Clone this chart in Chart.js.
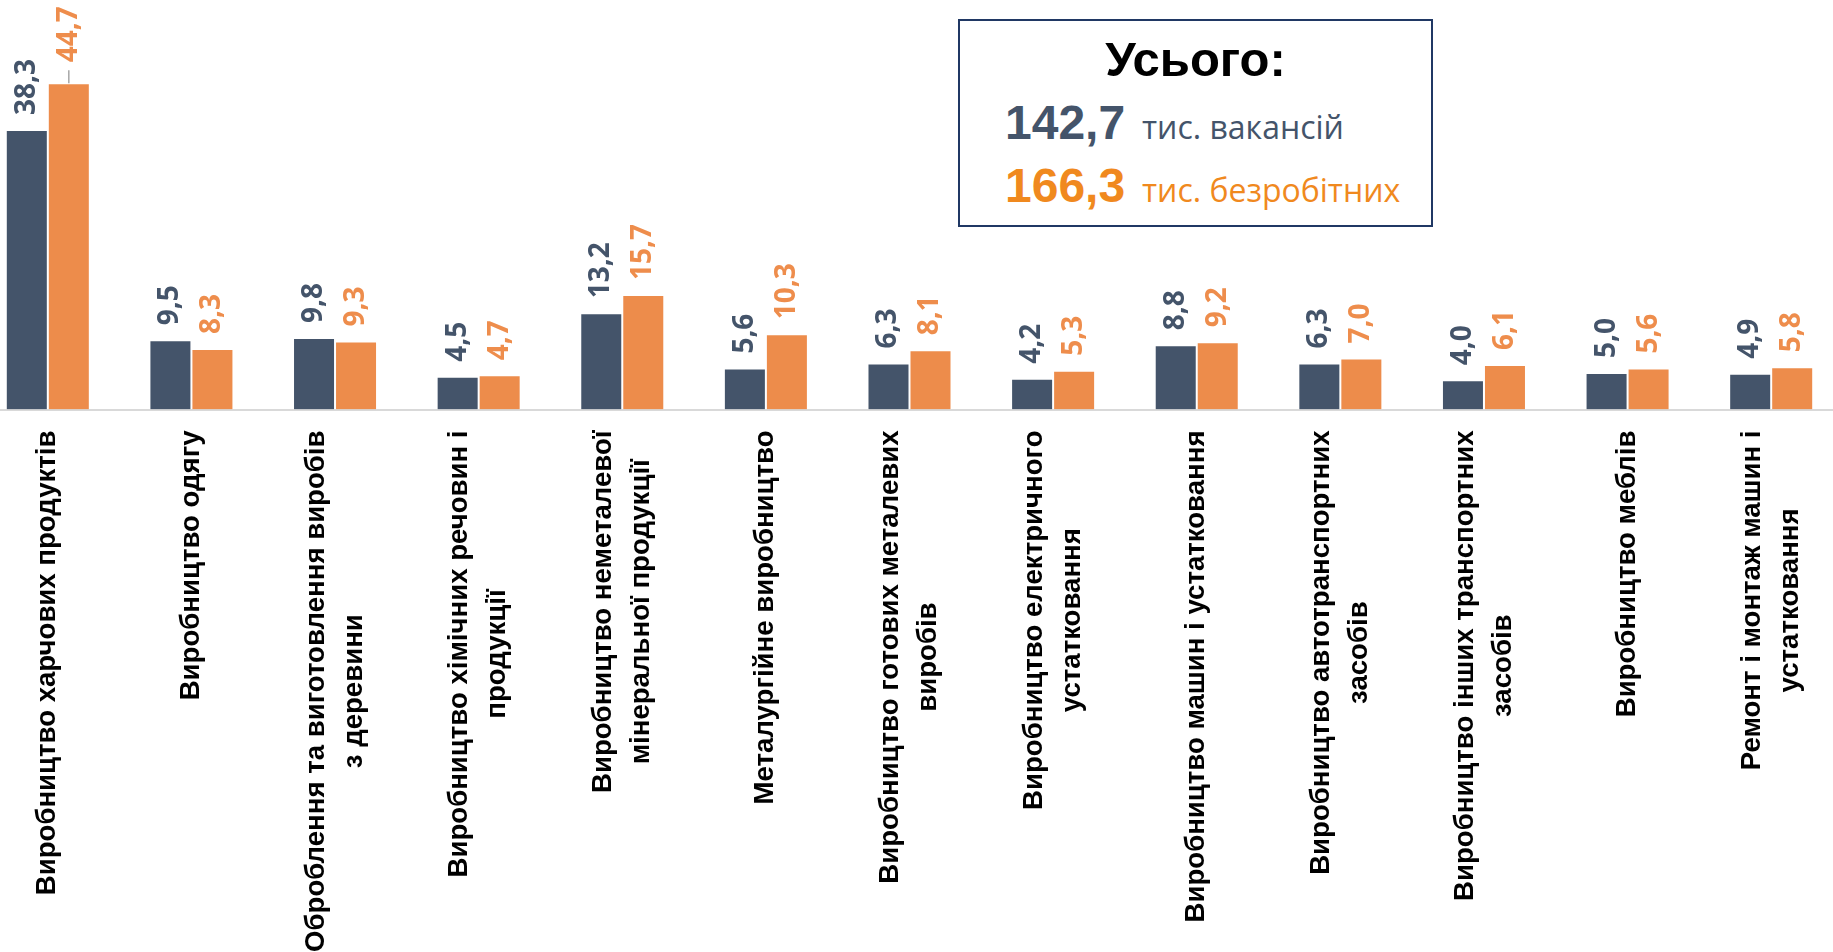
<!DOCTYPE html>
<html>
<head>
<meta charset="utf-8">
<script src="https://cdn.jsdelivr.net/npm/chart.js@4.4.1/dist/chart.umd.min.js"></script>
<style>
    html, body { margin: 0; padding: 0; background: #fff; overflow: hidden; }
    body { width: 1833px; height: 952px; position: relative; }
    #wrap { position: absolute; left: -24px; top: 0; width: 1867px; height: 952px; }
    #total { position: absolute; left: 958px; top: 19px; width: 471px; height: 204px;
             border: 2px solid #203864; background: #fff; }
    #total div { position: absolute; white-space: nowrap; }
    .big { font: bold 48px/48px "Liberation Sans", Arial, sans-serif; }
    .small { font: 32px/32px "Open Sans", sans-serif; }
</style>
</head>
<body>
<div id="wrap"><canvas id="chart"></canvas></div>
<div id="total">
    <div class="big" style="left:0;width:471px;text-align:center;top:14px;color:#000;font-size:49px;">Усього:</div>
    <div class="big" style="left:45px;top:78px;color:#44546A;">142,7</div>
    <div class="small" style="left:182px;top:90px;color:#44546A;">тис. вакансій</div>
    <div class="big" style="left:45px;top:141px;color:#F0891E;">166,3</div>
    <div class="small" style="left:182px;top:153px;color:#F0891E;">тис. безробітних</div>
</div>
<script>
// ===== DATA =====
const categories = [
    'Виробництво харчових продуктів',
    'Виробництво одягу',
    ['Оброблення та виготовлення виробів', 'з деревини'],
    ['Виробництво хімічних речовин і', 'продукції'],
    ['Виробництво неметалевої', 'мінеральної продукції'],
    'Металургійне виробництво',
    ['Виробництво готових металевих', 'виробів'],
    ['Виробництво електричного', 'устатковання'],
    'Виробництво машин і устатковання',
    ['Виробництво автотранспортних', 'засобів'],
    ['Виробництво інших транспортних', 'засобів'],
    'Виробництво меблів',
    ['Ремонт і монтаж машин і', 'устатковання']
];

// тис. вакансій
const vacancies = [38.3, 9.5, 9.8, 4.5, 13.2, 5.6, 6.3, 4.2, 8.8, 6.3, 4.0, 5.0, 4.9];
// тис. безробітних
const unemployed = [44.7, 8.3, 9.3, 4.7, 15.7, 10.3, 8.1, 5.3, 9.2, 7.0, 6.1, 5.6, 5.8];

const seriesNames = ['Вакансії', 'Безробітні'];
const barColors = ['#44546A', '#ED8C4B'];
const labelColors = ['#44546A', '#EE8D4C'];

// ===== PLUGINS =====
function fmt(v) {
    return v.toFixed(1).replace('.', ',');
}

// підписи значень над стовпцями (повернуті)
const valueLabels = {
    id: 'valueLabels',
    afterDatasetsDraw(chart) {
        const ctx = chart.ctx;
        chart.data.datasets.forEach((ds, di) => {
            const meta = chart.getDatasetMeta(di);
            meta.data.forEach((bar, i) => {
                let gap = 15;
                ctx.save();
                // виносна лінія для першого підпису безробітних
                if (di === 1 && i === 0) {
                    gap = 21;
                    ctx.strokeStyle = '#A6A6A6';
                    ctx.lineWidth = 1.5;
                    ctx.beginPath();
                    ctx.moveTo(bar.x, bar.y);
                    ctx.lineTo(bar.x, bar.y - 13);
                    ctx.stroke();
                }
                ctx.translate(bar.x, bar.y - gap);
                ctx.rotate(-Math.PI / 2);
                ctx.font = 'bold 28px "Open Sans", sans-serif';
                ctx.fillStyle = labelColors[di];
                ctx.textAlign = 'left';
                ctx.textBaseline = 'middle';
                ctx.fillText(fmt(ds.data[i]), 0, 0);
                ctx.restore();
            });
        });
    }
};

// підписи категорій: вертикально, рядки центровані
const categoryLabels = {
    id: 'categoryLabels',
    afterDraw(chart) {
        const ctx = chart.ctx;
        const xs = chart.scales.x;
        const top = chart.chartArea.bottom + 21;
        const pitch = 38;
        ctx.save();
        ctx.font = 'bold 27.6px "Liberation Sans", Arial, sans-serif';
        ctx.fillStyle = '#000';
        ctx.textAlign = 'center';
        ctx.textBaseline = 'middle';
        categories.forEach((lab, i) => {
            const lines = Array.isArray(lab) ? lab : [lab];
            const maxW = Math.max(...lines.map(l => ctx.measureText(l).width));
            const x = xs.getPixelForValue(i);
            const y = top + maxW / 2;
            lines.forEach((l, j) => {
                ctx.save();
                ctx.translate(x + (j - (lines.length - 1) / 2) * pitch, y);
                ctx.rotate(-Math.PI / 2);
                ctx.fillText(l, 0, 0);
                ctx.restore();
            });
        });
        ctx.restore();
    }
};

// ===== CHART =====
const ctx = document.getElementById('chart').getContext('2d');
new Chart(ctx, {
    type: 'bar',
    data: {
        labels: categories,
        datasets: [vacancies, unemployed].map((d, k) => ({
            label: seriesNames[k],
            data: d,
            backgroundColor: barColors[k],
            borderColor: 'rgba(255, 255, 255, 0.6)',
            borderWidth: 1,
            barPercentage: 1,
            categoryPercentage: 0.585
        }))
    },
    options: {
        responsive: true,
        maintainAspectRatio: false,
        animation: false,
        layout: { padding: 0 },
        plugins: {
            legend: { display: false },
            tooltip: { enabled: false }
        },
        scales: {
            x: {
                grid: { display: false, drawTicks: false },
                border: { display: true, color: '#D9D9D9', width: 2 },
                ticks: { display: false },
                afterFit(scale) { scale.height = 542.5; }
            },
            y: {
                display: false,
                min: 0,
                max: 56.1
            }
        }
    },
    plugins: [valueLabels, categoryLabels]
});
</script>
</body>
</html>
